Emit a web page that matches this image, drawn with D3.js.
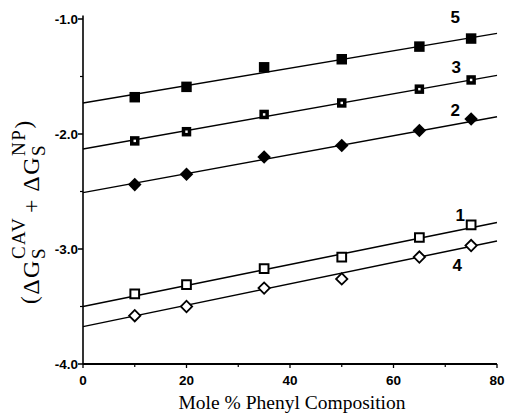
<!DOCTYPE html>
<html>
<head>
<meta charset="utf-8">
<script src="https://cdn.jsdelivr.net/npm/d3@7"></script>
<style>
  body { margin: 0; background: #fff; }
  svg { display: block; }
  .tick-label { font-family: "Liberation Sans", Arial, sans-serif; font-weight: bold; font-size: 13.5px; }
  .series-label { font-family: "Liberation Sans", Arial, sans-serif; font-weight: bold; font-size: 17px; }
</style>
</head>
<body>
<div id="chart"></div>
<script>
// mole % phenyl composition of each column
const composition = [10, 20, 35, 50, 65, 75];

// (dG_cav + dG_np)
const series1 = [-3.39, -3.31, -3.17, -3.07, -2.90, -2.79];
const series2 = [-2.44, -2.35, -2.20, -2.10, -1.97, -1.87];
const series3 = [-2.06, -1.98, -1.83, -1.73, -1.61, -1.53];
const series4 = [-3.58, -3.50, -3.34, -3.26, -3.07, -2.97];
const series5 = [-1.68, -1.59, -1.42, -1.35, -1.24, -1.17];

// regression lines, value at 0 and 80 %
const fitX = [0, 80];
const fit1 = [-3.50, -2.77];
const fit2 = [-2.51, -1.85];
const fit3 = [-2.13, -1.49];
const fit4 = [-3.675, -2.93];
const fit5 = [-1.73, -1.125];

const xTicks = [0, 20, 40, 60, 80];
const xMinor = [10, 30, 50, 70];
const yTicks = [-1.0, -2.0, -3.0, -4.0];
const yMinor = [-1.5, -2.5, -3.5];

const width = 507, height = 414;
const x = d3.scaleLinear().domain([0, 80]).range([83, 497]);
const y = d3.scaleLinear().domain([-4, -1]).range([364, 19]);

const svg = d3.select("#chart").append("svg")
  .attr("width", width)
  .attr("height", height);

// axes
svg.append("line")
  .attr("x1", x(0)).attr("x2", x(0))
  .attr("y1", y(-0.97)).attr("y2", y(-4))
  .attr("stroke", "#000").attr("stroke-width", 1.6);
svg.append("line")
  .attr("x1", x(0)).attr("x2", x(80))
  .attr("y1", y(-4)).attr("y2", y(-4))
  .attr("stroke", "#000").attr("stroke-width", 2);

svg.selectAll(".ytick").data(yTicks).enter().append("line")
  .attr("x1", x(0) - 5).attr("x2", x(0))
  .attr("y1", d => y(d)).attr("y2", d => y(d))
  .attr("stroke", "#000").attr("stroke-width", 1.5);
svg.selectAll(".yminor").data(yMinor).enter().append("line")
  .attr("x1", x(0) - 3).attr("x2", x(0))
  .attr("y1", d => y(d)).attr("y2", d => y(d))
  .attr("stroke", "#000").attr("stroke-width", 1.2);
svg.selectAll(".ylab").data(yTicks).enter().append("text")
  .attr("class", "tick-label")
  .attr("x", x(0) - 5)
  .attr("y", d => y(d) + 5)
  .attr("text-anchor", "end")
  .text(d => d.toFixed(1));

svg.selectAll(".xtick").data(xTicks).enter().append("line")
  .attr("x1", d => x(d)).attr("x2", d => x(d))
  .attr("y1", y(-4)).attr("y2", y(-4) + 4)
  .attr("stroke", "#000").attr("stroke-width", 1.3);
svg.selectAll(".xminor").data(xMinor).enter().append("line")
  .attr("x1", d => x(d)).attr("x2", d => x(d))
  .attr("y1", y(-4)).attr("y2", y(-4) + 3)
  .attr("stroke", "#000").attr("stroke-width", 1.2);
svg.selectAll(".xlab").data(xTicks).enter().append("text")
  .attr("class", "tick-label")
  .attr("x", d => x(d))
  .attr("y", y(-4) + 21)
  .attr("text-anchor", "middle")
  .text(d => d);

svg.append("text")
  .attr("x", 292)
  .attr("y", 409)
  .attr("text-anchor", "middle")
  .style("font-family", "'Liberation Serif', 'Times New Roman', serif")
  .style("font-size", "19.5px")
  .text("Mole % Phenyl Composition");

// y axis title, rotated
const yt = svg.append("g").attr("transform", "translate(39,304) rotate(-90)");
const serif = "'Liberation Serif', 'Times New Roman', serif";
let cx = 0;
function piece(str, size, dy, advance) {
  const t = yt.append("text")
    .attr("x", cx).attr("y", dy)
    .style("font-family", serif)
    .style("font-size", size + "px")
    .style("letter-spacing", "1.5px")
    .text(str);
  const w = t.node().getComputedTextLength();
  if (advance) cx += w;
  return w;
}
function subsup(sub, sup) {
  const start = cx;
  const w1 = piece(sub, 19, 6, false);
  const w2 = piece(sup, 19, -14, false);
  cx = start + Math.max(w1, w2);
}
piece("(", 23, -2, true);
piece("\u0394G", 24, 0, true);
subsup("S", "CAV");
cx += 4;
piece("+ \u0394G", 24, 0, true);
subsup("S", "NP");
piece(")", 23, -8, true);

// fit lines
const fits = [fit1, fit2, fit3, fit4, fit5];
const line = d3.line().x((d, i) => x(fitX[i])).y(d => y(d));
fits.forEach(f => {
  svg.append("path")
    .datum(f)
    .attr("d", line)
    .attr("fill", "none")
    .attr("stroke", "#000")
    .attr("stroke-width", 1.4);
});

// markers
function pts(vals) { return vals.map((v, i) => ({ c: composition[i], v: v })); }

const sq = d3.symbol().type(d3.symbolSquare);

// series 5 filled squares
svg.selectAll(".s5").data(pts(series5)).enter().append("path")
  .attr("transform", d => `translate(${x(d.c)},${y(d.v)})`)
  .attr("d", sq.size(110)())
  .attr("fill", "#000");

// series 3 squares with white dot
svg.selectAll(".s3").data(pts(series3)).enter().append("path")
  .attr("transform", d => `translate(${x(d.c)},${y(d.v)})`)
  .attr("d", sq.size(90)())
  .attr("fill", "#000");
svg.selectAll(".s3dot").data(pts(series3)).enter().append("path")
  .attr("transform", d => `translate(${x(d.c)},${y(d.v)})`)
  .attr("d", sq.size(6)())
  .attr("fill", "#fff");

// series 2 filled diamonds
svg.selectAll(".s2").data(pts(series2)).enter().append("path")
  .attr("transform", d => `translate(${x(d.c)},${y(d.v)}) rotate(45)`)
  .attr("d", sq.size(92)())
  .attr("fill", "#000");

// series 1 open squares
svg.selectAll(".s1").data(pts(series1)).enter().append("path")
  .attr("transform", d => `translate(${x(d.c)},${y(d.v)})`)
  .attr("d", sq.size(76)())
  .attr("fill", "#fff")
  .attr("stroke", "#000")
  .attr("stroke-width", 2);

// series 4 open diamonds
svg.selectAll(".s4").data(pts(series4)).enter().append("path")
  .attr("transform", d => `translate(${x(d.c)},${y(d.v)}) rotate(45)`)
  .attr("d", sq.size(64)())
  .attr("fill", "#fff")
  .attr("stroke", "#000")
  .attr("stroke-width", 1.8);

// series numbers next to the last point
const labelNames = ["5", "3", "2", "1", "4"];
const labelSeries = [series5, series3, series2, series1, series4];
const labelOffset = [[-16, -16], [-15, -7], [-16, -3], [-11, -4], [-14, 25]];
labelNames.forEach((n, i) => {
  const last = labelSeries[i].length - 1;
  svg.append("text")
    .attr("class", "series-label")
    .attr("x", x(composition[last]) + labelOffset[i][0])
    .attr("y", y(labelSeries[i][last]) + labelOffset[i][1])
    .attr("text-anchor", "middle")
    .text(n);
});
</script>
</body>
</html>
